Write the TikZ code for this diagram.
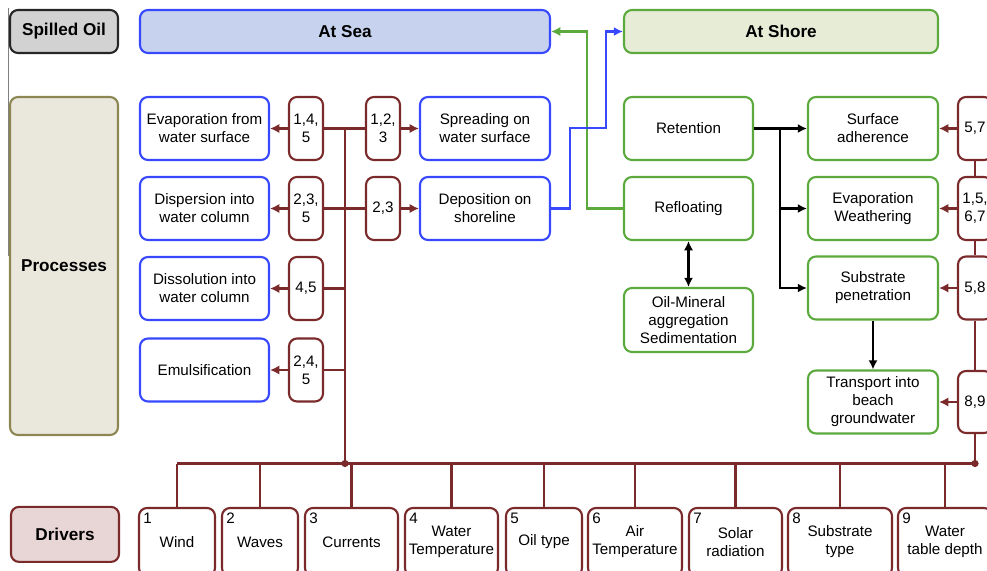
\documentclass[tikz,border=0pt]{standalone}
\usepackage{fontspec}
\setmainfont{Liberation Sans}
\usetikzlibrary{arrows.meta,shapes}

\definecolor{seablue}{RGB}{55,72,255}
\definecolor{seafill}{RGB}{198,210,238}
\definecolor{shoregreen}{RGB}{92,170,62}
\definecolor{shorefill}{RGB}{230,236,214}
\definecolor{drvred}{RGB}{122,42,42}
\definecolor{drvpink}{RGB}{232,213,213}
\definecolor{oilgrey}{RGB}{210,210,210}
\definecolor{procolive}{RGB}{140,135,82}
\definecolor{procbeige}{RGB}{234,231,221}

\tikzset{
  roundbox/.style={rounded corners=0.2cm,line width=1.5pt,align=center,inner sep=1pt},
  headbox/.style={roundbox,font=\bfseries\fontsize{12.2}{14}\selectfont,minimum height=1.075cm},
  procsea/.style={roundbox,draw=seablue,fill=white,minimum width=3.225cm,minimum height=1.575cm},
  procshore/.style={roundbox,draw=shoregreen,fill=white,minimum width=3.25cm,minimum height=1.575cm},
  numbox/.style={roundbox,draw=drvred,fill=white,minimum width=0.85cm,minimum height=1.575cm},
  drvbox/.style={roundbox,draw=drvred,fill=white,minimum height=1.7cm},
  linkred/.style={drvred,line width=1.5pt}
}

\begin{document}
\begin{tikzpicture}[>={Latex[length=2.3mm,width=2.3mm]},line width=1.5pt,font=\fontsize{10.8}{12.8}\selectfont]
\useasboundingbox (0,0) rectangle (24.675,-14.25);
\clip (0,0) rectangle (24.675,-14.25);
% row headings
\draw[gray,line width=0.6pt] (0.22,-0.2) -- (0.22,-6.4);
\node[headbox,draw=black!85,fill=oilgrey,minimum width=2.7cm] (oil) at (1.6,-0.7875) {Spilled Oil};
\node[headbox,draw=procolive,fill=procbeige,minimum width=2.7cm,minimum height=8.45cm] (proc) at (1.6,-6.65) {Processes};
\node[headbox,draw=drvred,fill=drvpink,minimum width=2.7cm,minimum height=1.375cm] (drv) at (1.625,-13.36) {Drivers};
\node[headbox,draw=seablue,fill=seafill,minimum width=10.25cm] (sea) at (8.625,-0.7875) {At Sea};
\node[headbox,draw=shoregreen,fill=shorefill,minimum width=7.85cm] (shore) at (19.525,-0.7875) {At Shore};
% at sea
\node[procsea] (evap) at (5.1125,-3.2125) {Evaporation from\\water surface};
\node[procsea] (disp) at (5.1125,-5.2125) {Dispersion into\\water column};
\node[procsea] (diss) at (5.1125,-7.2125) {Dissolution into\\water column};
\node[procsea] (emul) at (5.1125,-9.25) {Emulsification};
\node[procsea,minimum width=3.25cm] (spread) at (12.125,-3.2125) {Spreading on\\water surface};
\node[procsea,minimum width=3.25cm] (depo) at (12.125,-5.2125) {Deposition on\\shoreline};
\node[numbox] (d145) at (7.65,-3.2125) {1,4,\\5};
\node[numbox] (d235) at (7.65,-5.2125) {2,3,\\5};
\node[numbox] (d45) at (7.65,-7.2125) {4,5};
\node[numbox] (d245) at (7.65,-9.25) {2,4,\\5};
\node[numbox] (d123) at (9.575,-3.2125) {1,2,\\3};
\node[numbox] (d23) at (9.575,-5.2125) {2,3};
% at shore
\node[procshore,minimum width=3.225cm] (ret) at (17.2125,-3.2125) {Retention};
\node[procshore,minimum width=3.225cm] (refl) at (17.2125,-5.2125) {Refloating};
\node[procshore,minimum width=3.225cm,minimum height=1.6cm] (oma) at (17.2125,-8.0) {Oil-Mineral\\aggregation\\Sedimentation};
\node[procshore] (adh) at (21.825,-3.2125) {Surface\\adherence};
\node[procshore] (weath) at (21.825,-5.2125) {Evaporation\\Weathering};
\node[procshore] (pen) at (21.825,-7.2) {Substrate\\penetration};
\node[procshore] (trans) at (21.825,-10.05) {Transport into\\beach\\groundwater};
\node[numbox] (d57) at (24.375,-3.2125) {5,7};
\node[numbox] (d1567) at (24.375,-5.2125) {1,5,\\6,7};
\node[numbox] (d58) at (24.375,-7.2) {5,8};
\node[numbox,minimum height=1.55cm] (d89) at (24.375,-10.05) {8,9};
% drivers
\foreach \i/\x/\w/\t in {1/4.425/1.9/Wind, 2/6.5/1.9/Waves, 3/8.7875/2.325/Currents,
    4/11.2875/2.325/{Water\\Temperature}, 5/13.6/1.9/Oil type, 6/15.875/2.35/{Air\\Temperature},
    7/18.3875/2.325/{Solar\\radiation}, 8/21.0/2.6/{Substrate\\type}, 9/23.625/2.35/{Water\\table depth}}
  \node[drvbox,minimum width=\w cm,label={[anchor=north west,inner sep=0pt,xshift=0.11cm,yshift=-0.13cm]north west:\i}] (w\i) at (\x,-13.55) {\t};
\coordinate (top) at (8.625,-3.2125);
\coordinate (hub) at (8.625,-11.5875);
\coordinate (rhub) at (24.375,-11.5875);
% driver links
\draw[linkred] (w1 |- hub) -- (rhub);
\foreach \i in {1,...,9} \draw[linkred] (w\i) -- (w\i |- hub);
\draw[linkred] (top) -- (hub);
\draw[linkred] (d145) -- (d123) (d235) -- (d23) (d45) -- (d45 -| hub) (d245) -- (d245 -| hub);
\draw[linkred,->] (d145) -- (evap);
\draw[linkred,->] (d235) -- (disp);
\draw[linkred,->] (d45) -- (diss);
\draw[linkred,->] (d245) -- (emul);
\draw[linkred,->] (d123) -- (spread);
\draw[linkred,->] (d23) -- (depo);
\draw[linkred] (d57) -- (d1567) -- (d58) -- (d89) -- (rhub);
\draw[linkred,->] (d57) -- (adh);
\draw[linkred,->] (d1567) -- (weath);
\draw[linkred,->] (d58) -- (pen);
\draw[linkred,->] (d89) -- (trans);
\fill[drvred] (hub) circle (0.09) (rhub) circle (0.09);
% shore links
\coordinate (br) at (19.5,-3.2125);
\draw[->] (ret) -- (adh);
\draw[->] (br) |- (weath);
\draw[->] (br) |- (pen);
\draw[->] (pen) -- (trans);
\draw[<->] (refl) -- (oma);
\draw[shoregreen,->] (refl.west) -- (14.675,-5.2125) |- (sea.east);
\draw[seablue,->] (depo.east) -- (14.25,-5.2125) |- (15.15,-3.2) |- (shore.west);
\end{tikzpicture}
\end{document}
